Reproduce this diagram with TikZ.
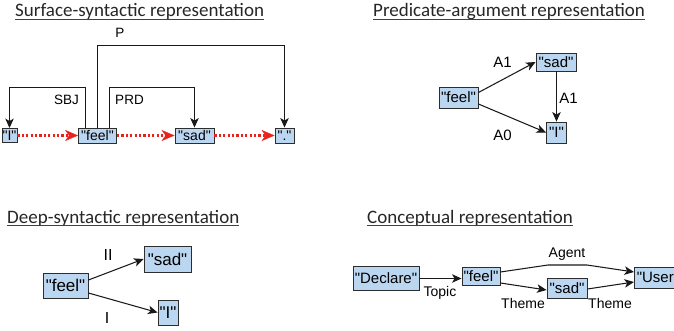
\documentclass[tikz,border=0pt]{standalone}
\usepackage{fontspec}
\setmainfont{Liberation Sans}[Ligatures=TeXOff]
\newfontfamily\titlefont{Carlito}
\usetikzlibrary{arrows.meta}
\definecolor{boxfill}{RGB}{187,214,240}
\definecolor{boxline}{RGB}{45,45,45}
\definecolor{redarr}{RGB}{232,35,30}
\tikzset{
  wbox/.style 2 args={draw=boxline, fill=boxfill, line width=0.9pt, inner sep=0pt,
    minimum width=#1pt, minimum height=#2pt},
  arr/.style={-{Stealth[length=9.5pt,width=8.5pt,inset=2.5pt]}, line width=1.05pt, black!90},
  redline/.style={draw=redarr, line width=2.2pt, dash pattern=on 2.2pt off 2.2pt,
    -{Stealth[length=13pt,width=11pt,inset=4pt,line width=0.4pt,fill=redarr]}},
  ttl/.style={font=\titlefont\fontsize{19}{22}\selectfont, inner sep=0pt, anchor=base west, text=black!85},
  uline/.style={line width=0.9pt, black!75},
  lbl/.style={inner sep=0pt, font=\fontsize{13.5}{16}\selectfont}
}
\begin{document}
\begin{tikzpicture}[x=1pt,y=-1pt]
\useasboundingbox (0,0) rectangle (674,331);

% ---------- titles ----------
\node[ttl] (t1) at (15,17) {Surface-syntactic representation};
\node[ttl] (t2) at (373,17) {Predicate-argument representation};
\node[ttl] (t3) at (7,223) {Deep-syntactic representation};
\node[ttl] (t4) at (367,223) {Conceptual representation};
\foreach \t in {t1,t2,t3,t4}
  \draw[uline] ([yshift=-2.6pt]\t.base west) -- ([yshift=-2.6pt]\t.base east);

% ---------- surface-syntactic ----------
\begin{scope}[font=\fontsize{14}{16}\selectfont]
\node[wbox={15}{14}] (nI) at (9.5,135.5) {"I"};
\node[wbox={38}{15}] (nfeel) at (97.5,135.5) {"feel"};
\node[wbox={39}{15}] (nsad) at (194.5,135.5) {"sad"};
\node[wbox={19}{15}] (ndot) at (284.5,135.5) {"."};
\end{scope}
\draw[redline] (nI.east) -- (nfeel.west);
\draw[redline] (nfeel.east) -- (nsad.west);
\draw[redline] (nsad.east) -- (ndot.west);
\draw[arr] ([xshift=-12pt]nfeel.north) -- ++(0,-40.5) -| (nI.north);
\draw[arr] (nfeel.north) -- ++(0,-82.5) -| (ndot.north);
\draw[arr] ([xshift=12pt]nfeel.north) -- ++(0,-40.5) -| (nsad.north);
\node[lbl] (lsbj) at (66.5,100) {SBJ};
\node[lbl] (lprd) at (129.5,100) {PRD};
\node[lbl] (lp) at (120,32.5) {P};

% ---------- predicate-argument ----------
\begin{scope}[font=\fontsize{15}{17}\selectfont]
\node[wbox={39}{21}] (pfeel) at (458.5,97.5) {"feel"};
\node[wbox={40}{18}] (psad) at (556,62) {"sad"};
\node[wbox={20}{21}] (pI) at (556.5,132.5) {"I"};
\end{scope}
\draw[arr] ([yshift=5pt]pfeel.east) -- (psad.west);
\draw[arr] (psad.south -| pI.north) -- (pI.north);
\draw[arr] ([yshift=-6.5pt]pfeel.east) -- (pI.west);
\begin{scope}[lbl/.append style={font=\fontsize{15}{17}\selectfont}]
\node[lbl] (la1) at (502.5,62) {A1};
\node[lbl] (la1b) at (568.5,98) {A1};
\node[lbl] (la0) at (502.5,135) {A0};
\end{scope}

% ---------- deep-syntactic ----------
\begin{scope}[font=\fontsize{17}{19}\selectfont]
\node[wbox={45}{25}] (dfeel) at (65.5,285.5) {"feel"};
\node[wbox={47}{26}] (dsad) at (167.5,259) {"sad"};
\node[wbox={20}{25}] (dI) at (168,312.5) {"I"};
\end{scope}
\draw[arr] ([yshift=5.5pt]dfeel.east) -- (dsad.west);
\draw[arr] ([yshift=-7.5pt]dfeel.east) -- (dI.west);
\begin{scope}[lbl/.append style={font=\fontsize{16}{18}\selectfont}]
\node[lbl] (lII) at (108,255) {II};
\node[lbl] (lI) at (107,318) {I};
\end{scope}

% ---------- conceptual ----------
\begin{scope}[font=\fontsize{15}{17}\selectfont]
\node[wbox={66}{24}] (cdecl) at (386,278.5) {"Declare"};
\node[wbox={38}{18}] (cfeel) at (481,276) {"feel"};
\node[wbox={40}{20}] (csad) at (567,288) {"sad"};
\node[wbox={47}{21}, anchor=west] (cuser) at (634,277.5) {"User"};
\end{scope}
\draw[arr] (cdecl.east) -- (cdecl.east -| cfeel.west);
\draw[arr] ([yshift=4pt]cfeel.east) -- (548,265) -- (587,265) -- ([yshift=5.5pt]cuser.west);
\draw[arr] ([yshift=-7pt]cfeel.east) -- ([yshift=-2pt]csad.west);
\draw[arr] ([yshift=-1pt]csad.east) -- ([yshift=-4.5pt]cuser.west);
\begin{scope}[lbl/.append style={font=\fontsize{14}{16}\selectfont}]
\node[lbl] (lagent) at (567,254) {Agent};
\node[lbl] (ltopic) at (440,293) {Topic};
\node[lbl] (ltheme1) at (523,303) {Theme};
\node[lbl] (ltheme2) at (610,303) {Theme};
\end{scope}
\end{tikzpicture}
\end{document}
